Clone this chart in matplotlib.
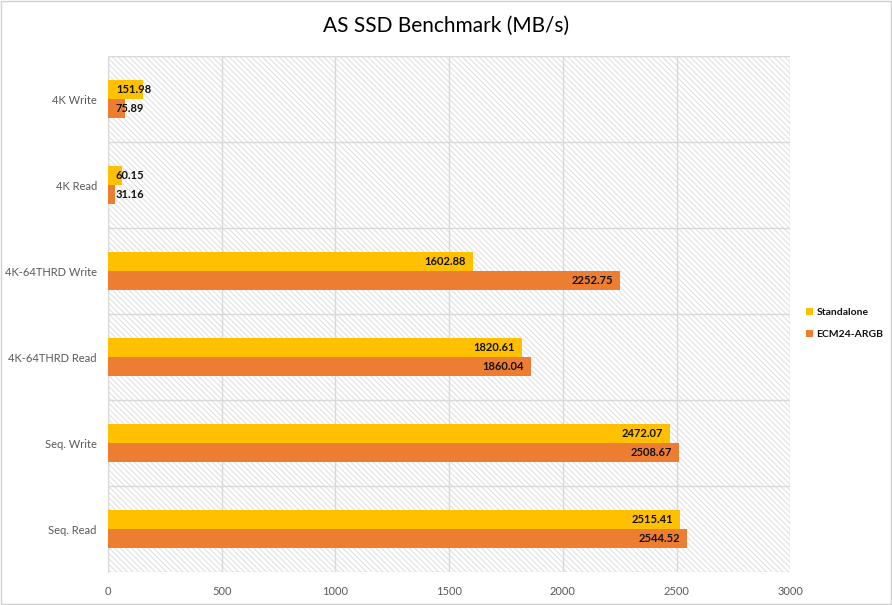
import matplotlib
matplotlib.use("Agg")
import matplotlib.pyplot as plt
import numpy as np

categories = ["4K Write", "4K Read", "4K-64THRD Write", "4K-64THRD Read", "Seq. Write", "Seq. Read"]
standalone = [151.98, 60.15, 1602.88, 1820.61, 2472.07, 2515.41]
ecm = [75.89, 31.16, 2252.75, 1860.04, 2508.67, 2544.52]
series_names = ["Standalone", "ECM24-ARGB"]
xticks = [0, 500, 1000, 1500, 2000, 2500, 3000]

plt.rcParams['font.family'] = ['Lato', 'DejaVu Sans']
plt.rcParams['hatch.color'] = '#d9d9d9'
plt.rcParams['hatch.linewidth'] = 0.6

fig = plt.figure(figsize=(8.92, 6.05), dpi=100)
ax = fig.add_axes([0.121, 0.0545, 0.765, 0.8525])

ax.patch.set_facecolor('white')
ax.patch.set_hatch('\\\\\\\\\\\\')
ax.patch.set_edgecolor('#d9d9d9')

y = np.arange(len(categories))
h = 0.22
c1, c2 = '#FFC000', '#ED7D31'
b1 = ax.barh(y - h / 2, standalone, height=h, color=c1, label=series_names[0], zorder=3)
b2 = ax.barh(y + h / 2, ecm, height=h, color=c2, label=series_names[1], zorder=3)

for vals, yy in ((standalone, y - h / 2), (ecm, y + h / 2)):
    for v, yi in zip(vals, yy):
        if v < 300:
            ax.text(35, yi, f"{v:.2f}", ha='left', va='center', fontsize=8,
                    fontweight='bold', color='#111111', zorder=4)
        else:
            ax.text(v - 30, yi, f"{v:.2f}", ha='right', va='center', fontsize=8,
                    fontweight='bold', color='#111111', zorder=4)

ax.set_xlim(0, 3000)
ax.set_ylim(len(categories) - 0.5, -0.5)
ax.set_xticks(xticks)
ax.set_xticklabels([str(t) for t in xticks])
ax.set_yticks(y)
ax.set_yticklabels(categories)
ax.set_yticks(np.arange(-0.5, len(categories), 1), minor=True)
ax.tick_params(axis='both', which='both', length=0, labelsize=8, colors='#595959', pad=8)
ax.tick_params(axis='x', pad=10)
ax.grid(axis='x', which='major', color='#d9d9d9', linewidth=1, zorder=1)
ax.grid(axis='y', which='minor', color='#d9d9d9', linewidth=1, zorder=1)
ax.set_axisbelow(True)
for s in ['top', 'right', 'bottom']:
    ax.spines[s].set_visible(False)
ax.spines['left'].set_color('#d9d9d9')

fig.text(0.5, 0.957, "AS SSD Benchmark (MB/s)", ha='center', va='center', fontsize=15, color='#000000')

leg = fig.legend(handles=[b1, b2], loc='center left', bbox_to_anchor=(0.893, 0.465),
                 frameon=False, fontsize=7.5, handlelength=0.7, handleheight=0.7,
                 handletextpad=0.3, labelspacing=1.2)
for t in leg.get_texts():
    t.set_fontweight('bold')
    t.set_color('#111111')

fig.patches.append(plt.Rectangle((0.001, 0.001), 0.998, 0.998, transform=fig.transFigure,
                                 fill=False, edgecolor='#d0d0d0', linewidth=1))

fig.savefig("out.png", dpi=100)
